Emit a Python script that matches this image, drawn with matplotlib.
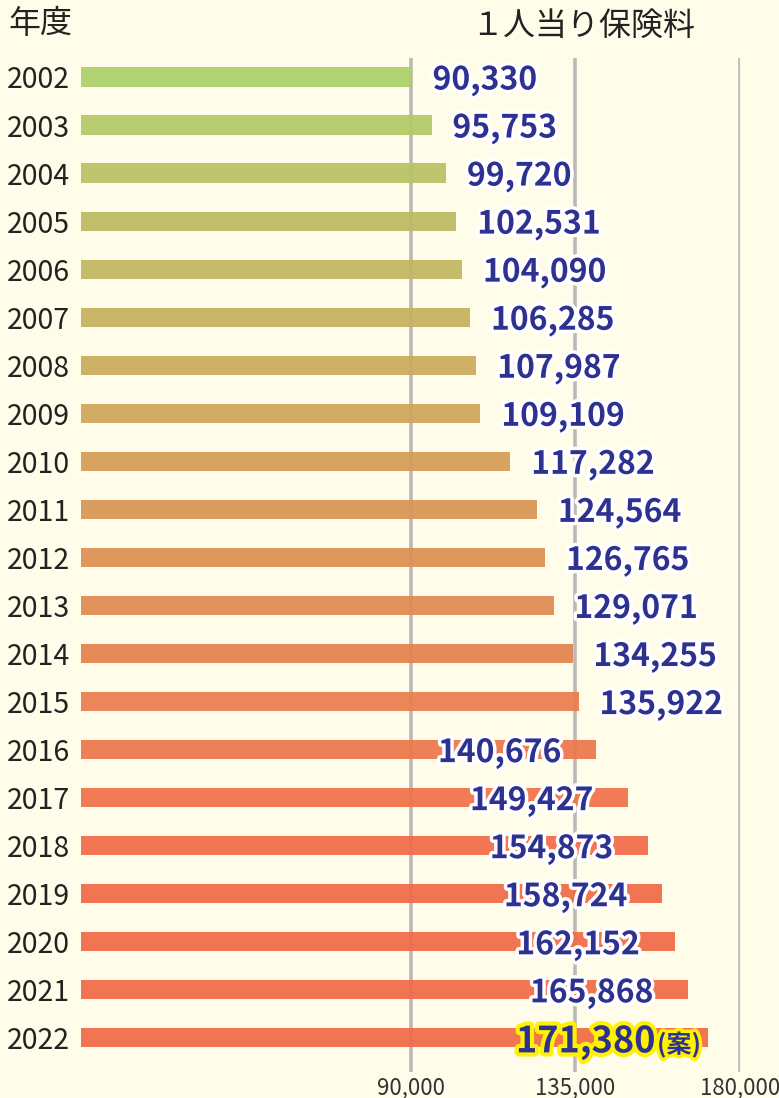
import matplotlib
matplotlib.use('Agg')
import matplotlib.pyplot as plt
import matplotlib.patheffects as pe

plt.rcParams['font.family'] = ['Noto Sans CJK JP', 'DejaVu Sans']

years = ['2002', '2003', '2004', '2005', '2006', '2007', '2008', '2009', '2010', '2011',
         '2012', '2013', '2014', '2015', '2016', '2017', '2018', '2019', '2020', '2021', '2022']
premium = [90330, 95753, 99720, 102531, 104090, 106285, 107987, 109109, 117282, 124564,
           126765, 129071, 134255, 135922, 140676, 149427, 154873, 158724, 162152, 165868, 171380]
ticks = [90000, 135000, 180000]
tick_labels = ['90,000', '135,000', '180,000']

# bar colours, green -> orange, one per year
bar_colors = ['#acd068', '#b3ca66', '#b9c264', '#bdbb62', '#c2b660', '#c6b15e', '#cbab5c',
              '#cfa55a', '#d59c56', '#d99654', '#dc9152', '#e08a51', '#e4834f', '#e97d4e',
              '#ed774c', '#ef714a', '#f16c48', '#f16b48', '#f16b48', '#f16b48', '#f16b48']

bg = '#fffce9'
navy = '#2d3190'
text_col = '#222222'

fig = plt.figure(figsize=(7.79, 10.98), dpi=100, facecolor=bg)
ax = fig.add_axes([81 / 779, 1 - 1072 / 1098, (740 - 81) / 779, (1072 - 58) / 1098])
ax.set_facecolor(bg)

pos = list(range(len(years)))
ax.barh(pos, premium, height=0.4, color=bar_colors, alpha=0.93, zorder=2)

ax.set_xlim(0, 180000)
ax.set_ylim(20.71, -0.395)
ax.set_xticks(ticks)
ax.set_xticklabels(tick_labels, fontsize=16, color='#333333')
ax.set_yticks(pos)
ax.set_yticklabels(years, fontsize=20.5, color=text_col)
ax.tick_params(axis='both', length=0)
ax.tick_params(axis='x', pad=3)
ax.tick_params(axis='y', pad=8)
ax.xaxis.grid(True, color='#b9b9bb', linewidth=2.6, zorder=1)
ax.set_axisbelow(True)
for s in ax.spines.values():
    s.set_visible(False)

white_edge = [pe.withStroke(linewidth=5, foreground='white')]
for i, (yr, v) in enumerate(zip(years, premium)):
    label = f'{v:,}'
    if yr == '2022':
        t = ax.annotate(label, (v, i), xytext=(-38, 0), textcoords='offset points',
                        ha='right', va='center_baseline', fontsize=26, fontweight='bold',
                        color=navy, zorder=5,
                        path_effects=[pe.withStroke(linewidth=6, foreground='#fff200')])
        ax.annotate('(案)', (1, 0), xycoords=t, xytext=(1, 2), textcoords='offset points',
                    ha='left', va='bottom', fontsize=18, fontweight='bold', color=navy,
                    zorder=5, path_effects=[pe.withStroke(linewidth=5, foreground='#fff200')])
    elif int(yr) >= 2016:
        ax.annotate(label, (v, i), xytext=(-25, 0), textcoords='offset points',
                    ha='right', va='center_baseline', fontsize=23, fontweight='bold',
                    color=navy, zorder=5, path_effects=white_edge)
    else:
        ax.annotate(label, (v, i), xytext=(15, 0), textcoords='offset points',
                    ha='left', va='center_baseline', fontsize=23, fontweight='bold',
                    color=navy, zorder=5, path_effects=white_edge)

fig.text(8 / 779, 1 - 24 / 1098, '年度', fontsize=23, color=text_col, ha='left', va='center')
fig.text(695 / 779, 1 - 26 / 1098, '１人当り保険料', fontsize=23, color=text_col,
         ha='right', va='center')

fig.savefig('out.png', dpi=100, facecolor=bg)
